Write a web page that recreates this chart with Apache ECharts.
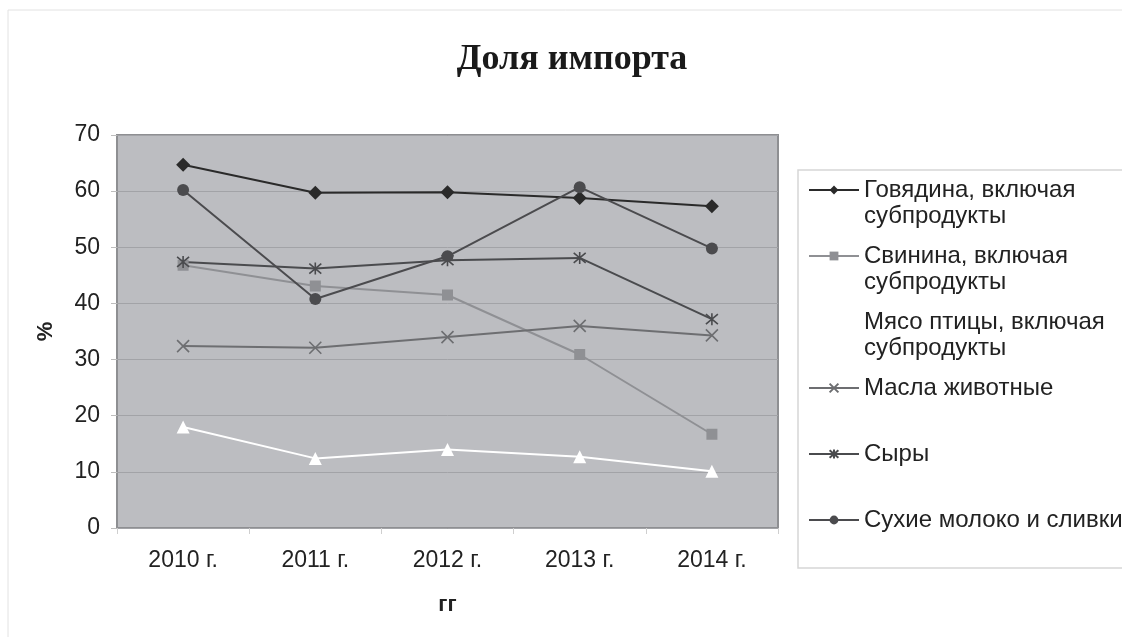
<!DOCTYPE html>
<html>
<head>
<meta charset="utf-8">
<script src="https://cdn.jsdelivr.net/npm/echarts@6/dist/echarts.min.js"></script>
<style>
    html, body { margin: 0; padding: 0; background: #fff; }
    #chart { width: 1122px; height: 637px; }
</style>
</head>
<body>
<div id="chart"></div>
<script>
var years = ['2010 г.', '2011 г.', '2012 г.', '2013 г.', '2014 г.'];
var beef = [64.7, 59.7, 59.8, 58.8, 57.3];
var pork = [46.8, 43.1, 41.5, 30.9, 16.7];
var poultry = [18.0, 12.4, 14.0, 12.7, 10.1];
var butter = [32.4, 32.1, 34.0, 36.0, 34.3];
var cheese = [47.4, 46.2, 47.7, 48.1, 37.2];
var milk = [60.2, 40.8, 48.4, 60.7, 49.8];

var seriesNames = [
    'Говядина, включая субпродукты',
    'Свинина, включая субпродукты',
    'Мясо птицы, включая субпродукты',
    'Масла животные',
    'Сыры',
    'Сухие молоко и сливки'
];

var crossPath = 'path://M0,0L10,10M10,0L0,10';
var starPath = 'path://M0,0L10,10M10,0L0,10M5,-1L5,11';

function makeLine(name, values, color, symbol, size, stroke) {
    var s = {
        name: name,
        type: 'line',
        data: values,
        symbol: symbol,
        symbolSize: size,
        lineStyle: { color: color, width: 2 },
        itemStyle: { color: color },
        z: 3
    };
    if (stroke) {
        s.itemStyle = { color: 'none', borderColor: color, borderWidth: 1.6 };
    }
    return s;
}

var chart = echarts.init(document.getElementById('chart'));

chart.setOption({
    animation: false,
    backgroundColor: '#fff',
    title: {
        text: 'Доля импорта',
        left: 567,
        top: 37,
        textAlign: 'center',
        textStyle: {
            fontFamily: 'Liberation Serif',
            fontWeight: 'bold',
            fontSize: 36,
            color: '#1a1a1a'
        }
    },
    graphic: [
        {
            type: 'rect',
            shape: { x: 8, y: 10, width: 1200, height: 700 },
            style: { fill: 'none', stroke: '#e2e2e2', lineWidth: 1 },
            silent: true
        },
        {
            type: 'rect',
            shape: { x: 798, y: 170, width: 400, height: 398 },
            style: { fill: 'none', stroke: '#d6d6d6', lineWidth: 1.5 },
            silent: true
        }
    ],
    legend: {
        orient: 'vertical',
        left: 808,
        top: 151,
        padding: 0,
        itemGap: -12,
        itemWidth: 50,
        itemHeight: 11,
        data: seriesNames,
        // every entry is 3 lines high, the icon sits on the middle (first real) line
        formatter: function (name) {
            if (name.indexOf(' субпродукты') > 0) {
                return ' \n' + name.replace(' субпродукты', '\nсубпродукты');
            }
            return ' \n' + name + '\n ';
        },
        textStyle: {
            fontFamily: 'Liberation Sans',
            fontSize: 24,
            lineHeight: 26,
            color: '#222'
        }
    },
    grid: {
        left: 117,
        right: 344,
        top: 135,
        bottom: 109,
        show: true,
        backgroundColor: '#bcbdc1',
        borderColor: '#8e8f92',
        borderWidth: 2
    },
    xAxis: {
        type: 'category',
        data: years,
        boundaryGap: true,
        name: 'гг',
        nameLocation: 'middle',
        nameGap: 66,
        nameTextStyle: {
            fontFamily: 'Liberation Sans',
            fontWeight: 'bold',
            fontSize: 22,
            color: '#222'
        },
        axisLine: { show: false },
        axisTick: { show: true, length: 6, lineStyle: { color: '#cfcfcf' } },
        axisLabel: {
            margin: 21,
            fontFamily: 'Liberation Sans',
            fontSize: 23,
            color: '#222'
        },
        splitLine: { show: false }
    },
    yAxis: {
        type: 'value',
        min: 0,
        max: 70,
        interval: 10,
        name: '%',
        nameLocation: 'middle',
        nameGap: 60,
        nameTextStyle: {
            fontFamily: 'Liberation Sans',
            fontWeight: 'bold',
            fontSize: 22,
            color: '#222'
        },
        axisLine: { show: false },
        axisTick: { show: true, length: 6, lineStyle: { color: '#bdbdbd' } },
        axisLabel: {
            margin: 17,
            fontFamily: 'Liberation Sans',
            fontSize: 23,
            color: '#222'
        },
        splitLine: { show: true, lineStyle: { color: '#a2a3a7', width: 1 } }
    },
    series: [
        makeLine(seriesNames[0], beef, '#2a2a2a', 'diamond', 14),
        makeLine(seriesNames[1], pork, '#8f9094', 'rect', 11),
        makeLine(seriesNames[2], poultry, '#ffffff', 'triangle', 13),
        makeLine(seriesNames[3], butter, '#6d6e71', crossPath, 12, true),
        makeLine(seriesNames[4], cheese, '#4a4b4e', starPath, 12, true),
        makeLine(seriesNames[5], milk, '#4b4b4e', 'circle', 12)
    ]
});
</script>
</body>
</html>
